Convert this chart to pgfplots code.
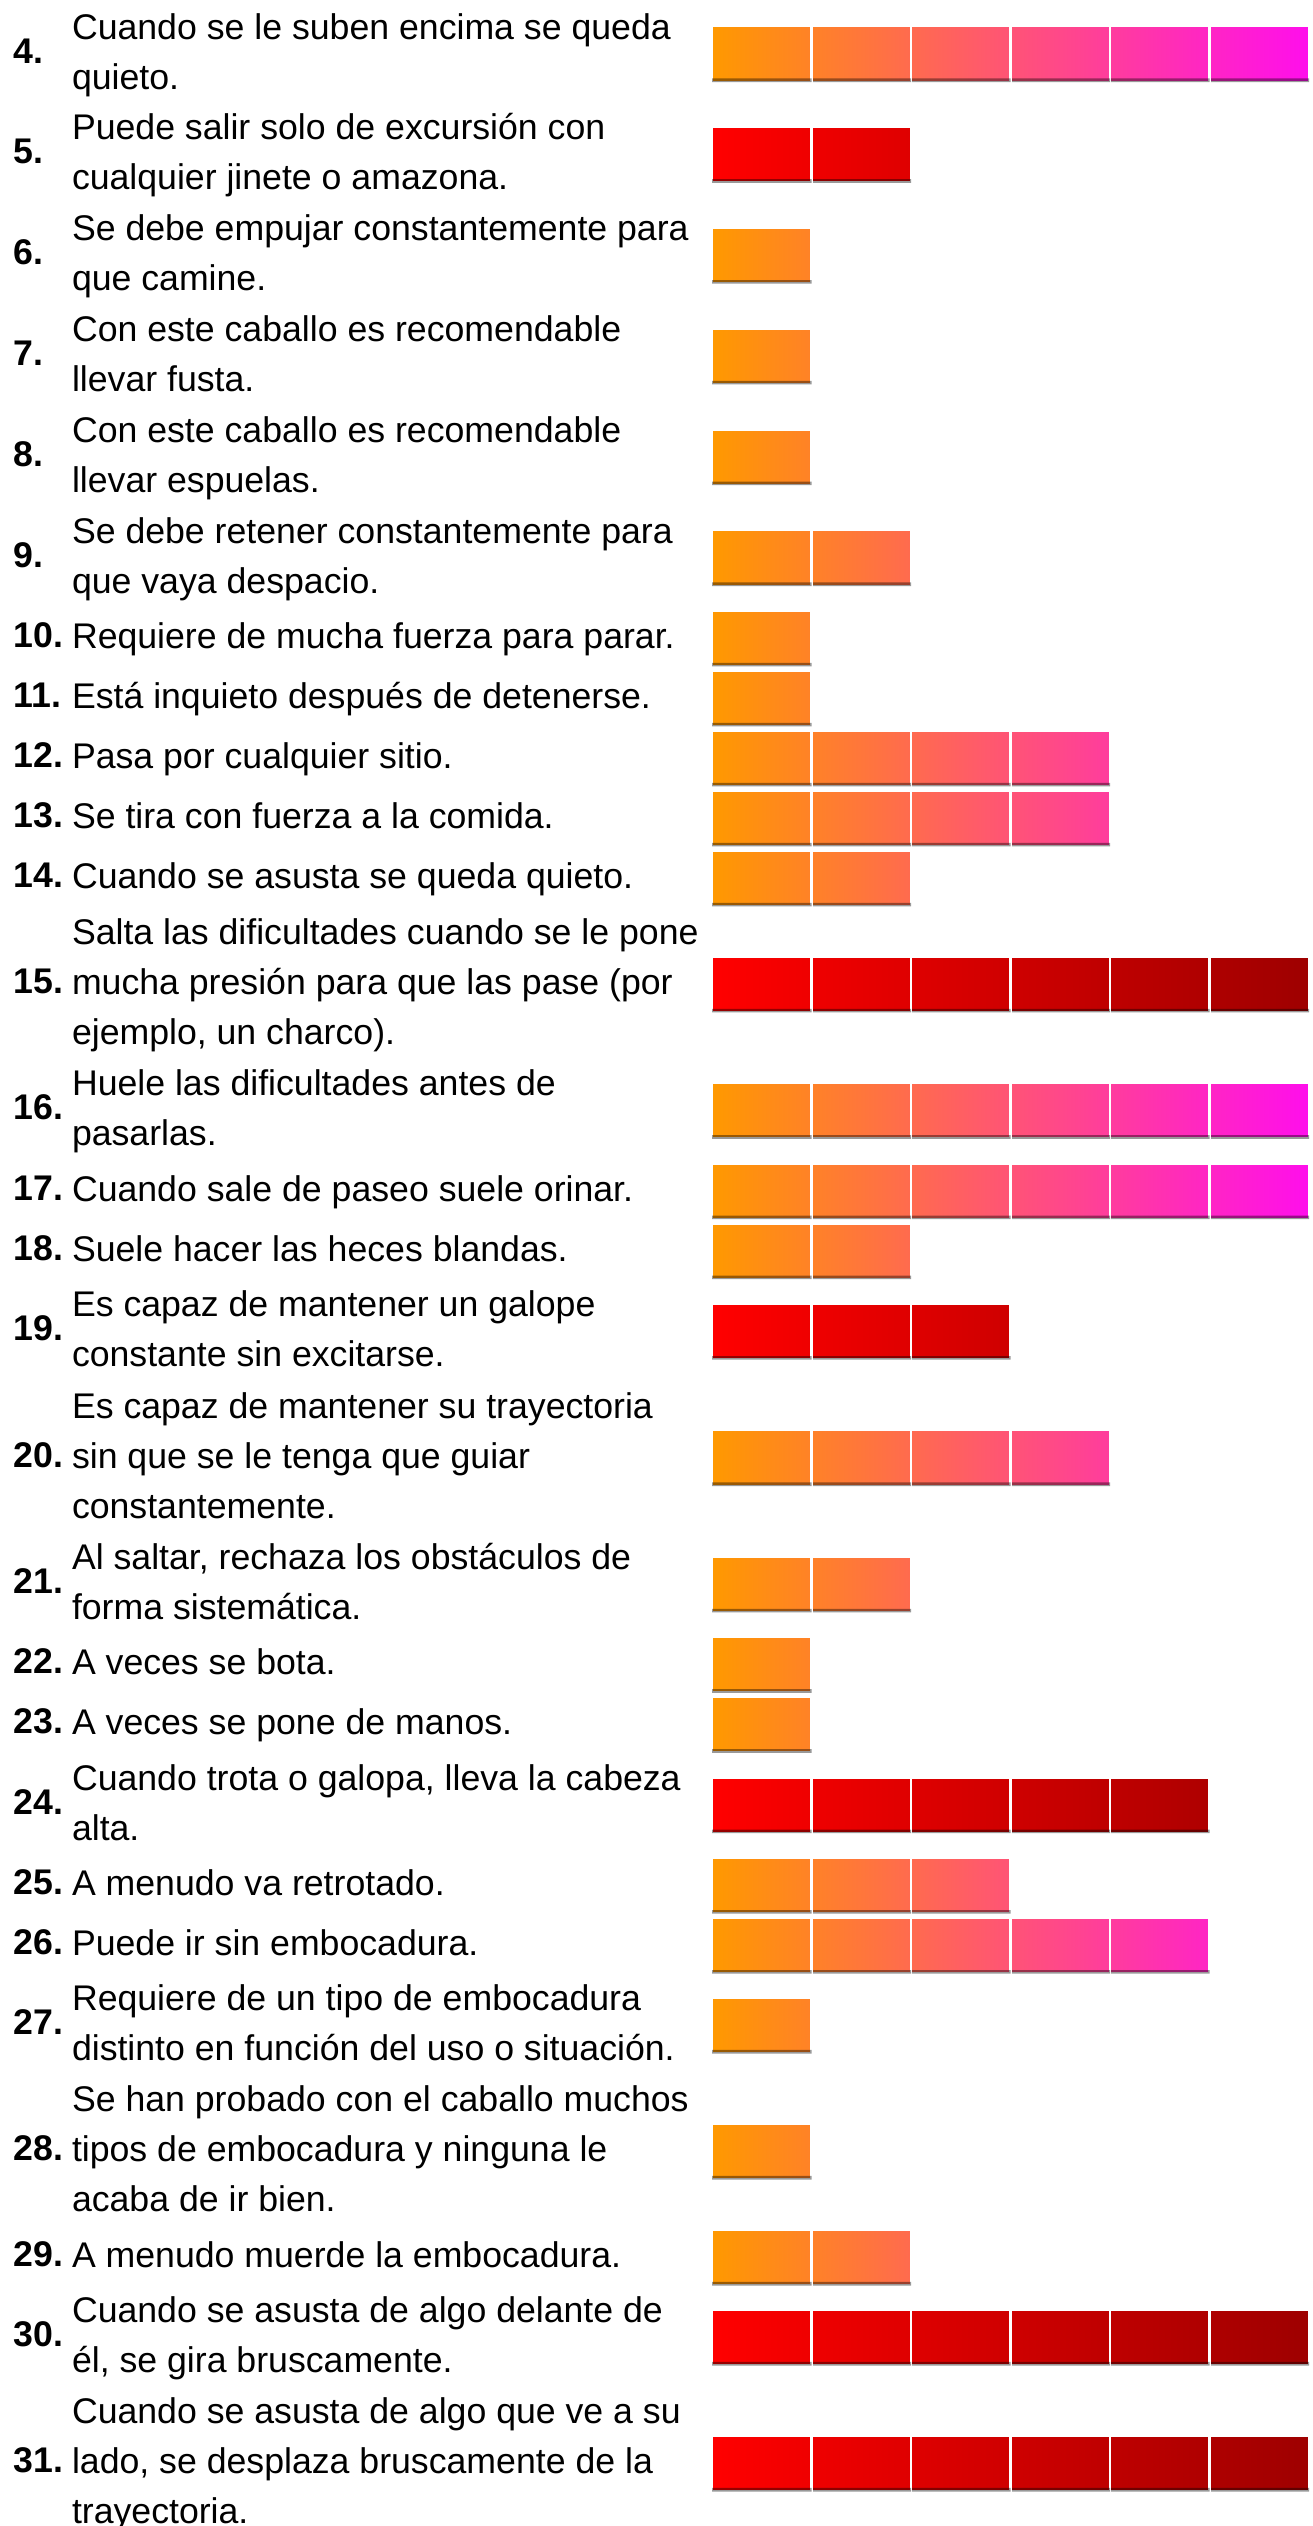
\documentclass[border=0pt]{standalone}
\usepackage{fontspec}
\setmainfont{Liberation Sans}
\usepackage{pgfplots}
\pgfplotsset{compat=1.18}
\usepackage{pgfplotstable}

\definecolor{Astart}{RGB}{255,153,0}
\definecolor{Aend}{RGB}{255,14,236}
\definecolor{Bstart}{RGB}{255,0,0}
\definecolor{Bend}{RGB}{158,0,0}
\colorlet{A1}{Aend!16.667!Astart}
\colorlet{A2}{Aend!33.333!Astart}
\colorlet{A3}{Aend!50!Astart}
\colorlet{A4}{Aend!66.667!Astart}
\colorlet{A5}{Aend!83.333!Astart}
\colorlet{A6}{Aend}
\colorlet{B1}{Bend!16.667!Bstart}
\colorlet{B2}{Bend!33.333!Bstart}
\colorlet{B3}{Bend!50!Bstart}
\colorlet{B4}{Bend!66.667!Bstart}
\colorlet{B5}{Bend!83.333!Bstart}
\colorlet{B6}{Bend}

% y = row centre (px from top), a = orange/magenta blocks, r = red blocks
\pgfplotstableread{
y      a r
54.0   6 0
154.8  0 2
255.6  1 0
356.4  1 0
457.2  1 0
558.0  2 0
638.4  1 0
698.4  1 0
758.4  4 0
818.4  4 0
878.4  2 0
984.4  0 6
1110.8 6 0
1191.2 6 0
1251.2 2 0
1331.6 0 3
1458.0 4 0
1584.4 2 0
1664.8 1 0
1724.8 1 0
1805.2 0 5
1885.6 3 0
1945.6 5 0
2025.5 1 0
2151.5 1 0
2257.5 2 0
2337.5 0 6
2463.5 0 6
}\rows

\newcommand{\lab}[2]{\makebox[17.5pt][l]{\bfseries #1}\parbox[c]{200pt}{\strut#2\strut}}

\begin{document}
\begin{tikzpicture}
\begin{axis}[
  scale only axis, width=393.9pt, height=757.8pt,
  xmin=-7.156, xmax=6.040, ymin=0, ymax=2526, y dir=reverse,
  axis line style={draw=none}, tick style={draw=none}, major tick length=0pt,
  axis background/.style={fill=white},
  xtick=\empty,
  ytick={54.0,154.8,255.6,356.4,457.2,558.0,638.4,698.4,758.4,818.4,878.4,984.4,1110.8,1191.2,1251.2,1331.6,1458.0,1584.4,1664.8,1724.8,1805.2,1885.6,1945.6,2025.5,2151.5,2257.5,2337.5,2463.5},
  yticklabels={
    {\lab{4.}{Cuando se le suben encima se queda\\quieto.}},
    {\lab{5.}{Puede salir solo de excursión con\\cualquier jinete o amazona.}},
    {\lab{6.}{Se debe empujar constantemente para\\que camine.}},
    {\lab{7.}{Con este caballo es recomendable\\llevar fusta.}},
    {\lab{8.}{Con este caballo es recomendable\\llevar espuelas.}},
    {\lab{9.}{Se debe retener constantemente para\\que vaya despacio.}},
    {\lab{10.}{Requiere de mucha fuerza para parar.}},
    {\lab{11.}{Está inquieto después de detenerse.}},
    {\lab{12.}{Pasa por cualquier sitio.}},
    {\lab{13.}{Se tira con fuerza a la comida.}},
    {\lab{14.}{Cuando se asusta se queda quieto.}},
    {\lab{15.}{Salta las dificultades cuando se le pone\\mucha presión para que las pase (por\\ejemplo, un charco).}},
    {\lab{16.}{Huele las dificultades antes de\\pasarlas.}},
    {\lab{17.}{Cuando sale de paseo suele orinar.}},
    {\lab{18.}{Suele hacer las heces blandas.}},
    {\lab{19.}{Es capaz de mantener un galope\\constante sin excitarse.}},
    {\lab{20.}{Es capaz de mantener su trayectoria\\sin que se le tenga que guiar\\constantemente.}},
    {\lab{21.}{Al saltar, rechaza los obstáculos de\\forma sistemática.}},
    {\lab{22.}{A veces se bota.}},
    {\lab{23.}{A veces se pone de manos.}},
    {\lab{24.}{Cuando trota o galopa, lleva la cabeza\\alta.}},
    {\lab{25.}{A menudo va retrotado.}},
    {\lab{26.}{Puede ir sin embocadura.}},
    {\lab{27.}{Requiere de un tipo de embocadura\\distinto en función del uso o situación.}},
    {\lab{28.}{Se han probado con el caballo muchos\\tipos de embocadura y ninguna le\\acaba de ir bien.}},
    {\lab{29.}{A menudo muerde la embocadura.}},
    {\lab{30.}{Cuando se asusta de algo delante de\\él, se gira bruscamente.}},
    {\lab{31.}{Cuando se asusta de algo que ve a su\\lado, se desplaza bruscamente de la\\trayectoria.}}
  },
  yticklabel style={anchor=west, inner sep=0pt, xshift=3.9pt, overlay,
    font=\fontsize{10.7pt}{15pt}\selectfont},
]
\pgfplotsinvokeforeach{6,5,4,3,2,1}{
  \addplot[xbar, bar shift=0, bar width=56, draw=white, line width=0.8pt,
    left color=Astart, right color=A#1]
    table[x expr={\thisrow{a}>(#1-0.5) ? #1 : nan}, y=y]{\rows};
  \addplot[xbar, bar shift=0, bar width=56, draw=white, line width=0.8pt,
    left color=Bstart, right color=B#1]
    table[x expr={\thisrow{r}>(#1-0.5) ? #1 : nan}, y=y]{\rows};
  \addplot[xbar, bar shift=26.2, bar width=3.6, draw=none, fill=black, fill opacity=0.4]
    table[x expr={max(\thisrow{a},\thisrow{r})>(#1-0.5) ? #1 : nan}, y=y]{\rows};
}
\end{axis}
\end{tikzpicture}
\end{document}
